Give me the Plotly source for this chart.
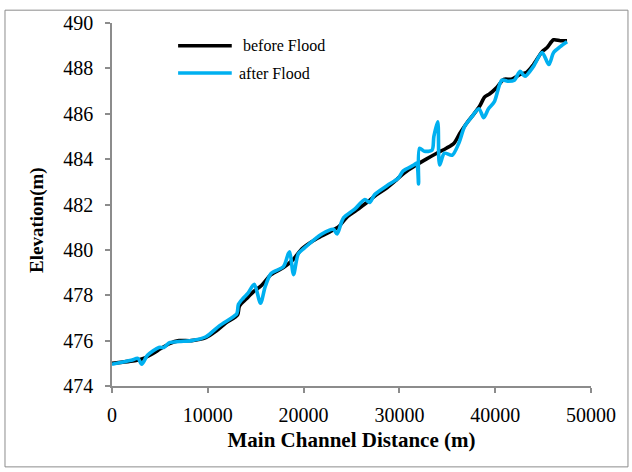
import plotly.graph_objects as go

# Longitudinal bed profile of the main channel (distance in m, elevation in m)
before_x = [0, 2500, 3200, 4100, 5100, 6000, 7000, 8300, 9800, 10900,
            11900, 13100, 13300, 14000, 14800, 15600, 16600, 17900, 18900, 19800,
            20800, 21900, 22900, 23700, 24500, 25500, 26600, 27600, 28700, 29700,
            30500, 31600, 32800, 33900, 34900, 35700, 36300, 37000, 37800, 38400,
            38900, 39400, 40100, 40900, 41700, 42600, 43300, 44000, 44900, 45400,
            46100, 46800, 47500]
before_y = [475.0, 475.13, 475.2, 475.39, 475.65, 475.87, 476.0, 476.0, 476.13, 476.43,
            476.78, 477.13, 477.52, 477.83, 478.17, 478.43, 478.91, 479.22, 479.57, 480.04,
            480.35, 480.61, 480.83, 481.04, 481.43, 481.74, 482.09, 482.43, 482.74, 483.09,
            483.39, 483.7, 484.0, 484.26, 484.48, 484.7, 485.13, 485.57, 486.0, 486.35,
            486.74, 486.87, 487.13, 487.52, 487.52, 487.74, 487.83, 488.17, 488.74, 488.91,
            489.26, 489.22, 489.22]

after_x = [0, 2000, 2700, 3100, 3700, 4900, 5400, 6000, 7000, 8300,
           9800, 11200, 13000, 13100, 13200, 13700, 14200, 14850, 15500, 16000,
           16600, 17900, 18400, 18550, 18950, 19450, 20100, 21900, 23100, 23500,
           23950, 24200, 25300, 26400, 26900, 27400, 28700, 29900, 30400, 31500,
           31800, 32000, 32100, 32600, 33400, 33600, 34000, 34200, 34700, 35500,
           36200, 36800, 37500, 38300, 38800, 39300, 39900, 40700, 41400, 42000,
           42600, 43100, 44000, 44900, 45600, 46100, 46800, 47500]
after_y = [474.96, 475.13, 475.22, 474.96, 475.35, 475.7, 475.7, 475.91, 475.96, 476.0,
           476.17, 476.65, 477.17, 477.3, 477.6, 477.87, 478.09, 478.48, 477.65, 478.39,
           478.96, 479.26, 479.83, 479.91, 478.91, 479.83, 480.09, 480.7, 480.91, 480.7,
           481.22, 481.43, 481.78, 482.22, 482.09, 482.43, 482.83, 483.17, 483.48, 483.74,
           483.83, 482.91, 484.48, 484.35, 484.39, 485.0, 485.65, 483.74, 484.26, 484.17,
           484.7, 485.43, 485.83, 486.22, 485.83, 486.22, 486.52, 487.48, 487.43, 487.48,
           487.87, 487.65, 488.09, 488.7, 488.17, 488.7, 488.96, 489.17]

series_names = [" before Flood", "after Flood"]
series_colors = ["#000000", "#00B0F0"]

x_ticks = [0, 10000, 20000, 30000, 40000, 50000]
y_ticks = [474, 476, 478, 480, 482, 484, 486, 488, 490]

FONT = "Liberation Serif, Times New Roman, serif"
AXIS_GRAY = "#8C8C8C"

fig = go.Figure()
for xs, ys, color in [(before_x, before_y, series_colors[0]),
                      (after_x, after_y, series_colors[1])]:
    fig.add_trace(go.Scatter(
        x=xs, y=ys, mode="lines",
        line=dict(color=color, width=3.6, shape="spline", smoothing=0.8),
        showlegend=False, hoverinfo="skip",
    ))

# Legend keys drawn in the upper-left of the plot area
legend_rows = [0.937, 0.862]
for name, color, yrow, xtext in zip(series_names, series_colors, legend_rows, [0.262, 0.26]):
    fig.add_shape(type="line", xref="paper", yref="paper",
                  x0=0.138, x1=0.250, y0=yrow, y1=yrow,
                  line=dict(color=color, width=3.5))
    fig.add_annotation(xref="paper", yref="paper", x=xtext, y=yrow,
                       xanchor="left", yanchor="middle", showarrow=False,
                       text=name, font=dict(family=FONT, size=16, color="#000000"))

# Vertical axis title, set slightly below the plot-area centre
fig.add_annotation(xref="paper", yref="paper", x=-0.157, y=0.457,
                   xanchor="center", yanchor="middle", showarrow=False, textangle=-90,
                   text="<b>Elevation(m)</b>", font=dict(family=FONT, size=19, color="#000000"))

# Chart-area frame
fig.add_shape(type="rect", xref="paper", yref="paper",
              x0=-0.2234, x1=1.0772, y0=-0.2228, y1=1.0353,
              line=dict(color=AXIS_GRAY, width=1), layer="below")

fig.update_layout(
    width=632, height=472,
    margin=dict(l=112, r=41, t=18, b=86),
    paper_bgcolor="white", plot_bgcolor="white",
    font=dict(family=FONT, color="#000000"),
)
fig.update_xaxes(
    range=[0, 50000], tickvals=x_ticks, ticktext=[str(v) for v in x_ticks],
    showgrid=False, zeroline=False, showline=True, linecolor=AXIS_GRAY, linewidth=1.5,
    ticks="outside", ticklen=5, tickcolor=AXIS_GRAY, tickwidth=1.5,
    tickfont=dict(family=FONT, size=20), ticklabelstandoff=5,
    title=dict(text="<b>Main Channel Distance (m)</b>",
               font=dict(family=FONT, size=21), standoff=8),
)
fig.update_yaxes(
    range=[474, 490], tickvals=y_ticks, ticktext=[str(v) for v in y_ticks],
    showgrid=False, zeroline=False, showline=True, linecolor=AXIS_GRAY, linewidth=1.5,
    ticks="outside", ticklen=5, tickcolor=AXIS_GRAY, tickwidth=1.5,
    tickfont=dict(family=FONT, size=20), ticklabelstandoff=8,
)

fig.write_html("out.html")
